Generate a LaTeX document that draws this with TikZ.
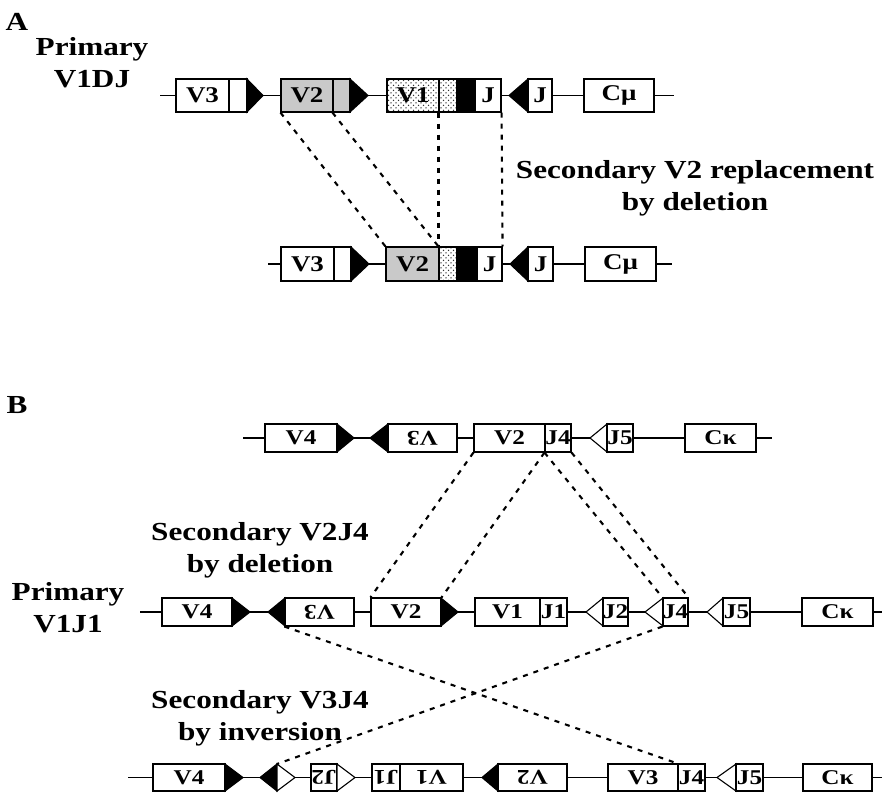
\documentclass[tikz,border=0pt]{standalone}
\usepackage{fontspec}
\setmainfont{Liberation Serif}[FakeStretch=1.2]
\usetikzlibrary{fit,patterns}
\pgfdeclarepatternformonly{stipple}{\pgfqpoint{-1pt}{-1pt}}{\pgfqpoint{5pt}{5pt}}{\pgfqpoint{5pt}{5pt}}{%
  \pgfpathcircle{\pgfqpoint{1pt}{1pt}}{0.75pt}%
  \pgfpathcircle{\pgfqpoint{3.5pt}{3.5pt}}{0.75pt}%
  \pgfusepath{fill}}
\begin{document}
\begin{tikzpicture}[x=1pt,y=-1pt,
  seg/.style={draw, line width=1.1pt, fill=white, inner sep=0pt},
  ta/.style={font=\fontsize{22.5}{24}\selectfont\bfseries, inner sep=0pt},
  tb/.style={font=\fontsize{21}{22}\selectfont\bfseries, inner sep=0pt},
  grayf/.style={fill=gray!42},
  dotf/.style={preaction={fill=white}, pattern=stipple, pattern color=black!80},
  blk/.style={fill=black},
  bb/.style={line width=1.1pt},
  dl/.style={line width=2.1pt, dash pattern=on 5pt off 6pt},
  lab/.style={font=\fontsize{26}{32}\selectfont\bfseries, align=center, inner sep=0pt},
  tri/.style={draw, line width=1.1pt, fill=black, line join=miter},
  otri/.style={draw, line width=1.1pt, fill=white, line join=miter}
]
\useasboundingbox (0,0) rectangle (882,794);
\fill[white] (0,0) rectangle (882,794);

% ---------- labels ----------
\node[lab] (tA) at (17,22) {A};
\node[lab] (pA) at (92,63) {Primary\\V1DJ};
\node[lab] (sA) at (695,188) {Secondary V2 replacement\\by deletion};
\node[lab] (tB) at (17,405) {B};
\node[lab] (pB) at (68,608) {Primary\\V1J1};
\node[lab] (sB1) at (260,550) {Secondary V2J4\\by deletion};
\node[lab] (sB2) at (260,718) {Secondary V3J4\\by inversion};

% ---------- A row 1 ----------
\draw[bb] (160,95.5) -- (674,95.5);
\node[seg, fit={(176,79)(229,112)}, label={[ta]center:V3}] (a1v3) {};
\node[seg, fit={(229,79)(247,112)}] (a1v3r) {};
\filldraw[tri] (247,79) -- (263,95.5) -- (247,112) -- cycle;
\node[seg, grayf, fit={(281,79)(333,112)}, label={[ta]center:V2}] (a1v2) {};
\node[seg, grayf, fit={(333,79)(350,112)}] (a1v2r) {};
\filldraw[tri] (350,79) -- (368,95.5) -- (350,112) -- cycle;
\node[seg, dotf, fit={(387,79)(439,112)}, label={[ta]center:V1}] (a1v1) {};
\node[seg, dotf, fit={(439,79)(457,112)}] (a1d) {};
\node[seg, blk, fit={(457,79)(475,112)}] (a1blk) {};
\node[seg, fit={(475,79)(501,112)}, label={[ta]center:J}] (a1j) {};
\filldraw[tri] (528,79) -- (509,95.5) -- (528,112) -- cycle;
\node[seg, fit={(528,79)(552,112)}, label={[ta]center:J}] (a1j2) {};
\node[seg, fit={(584,79)(654,112)}, label={[ta]center:Cμ}] (a1c) {};

% ---------- A row 2 ----------
\draw[bb] (268,264) -- (672,264);
\node[seg, fit={(281,247)(334,281)}, label={[ta]center:V3}] (a2v3) {};
\node[seg, fit={(334,247)(351,281)}] (a2v3r) {};
\filldraw[tri] (351,247) -- (369,264) -- (351,281) -- cycle;
\node[seg, grayf, fit={(386,247)(439,281)}, label={[ta]center:V2}] (a2v2) {};
\node[seg, dotf, fit={(439,247)(457,281)}] (a2d) {};
\node[seg, blk, fit={(457,247)(477,281)}] (a2blk) {};
\node[seg, fit={(477,247)(502,281)}, label={[ta]center:J}] (a2j) {};
\filldraw[tri] (528,247) -- (510,264) -- (528,281) -- cycle;
\node[seg, fit={(528,247)(553,281)}, label={[ta]center:J}] (a2j2) {};
\node[seg, fit={(585,247)(656,281)}, label={[ta]center:Cμ}] (a2c) {};

\draw[dl] (a1v2.south west) -- (a2v2.north west);
\draw[dl] (a1v2r.south west) -- (a2d.north west);
\draw[dl] (a1d.south west) -- (a2d.north west);
\draw[dl] (a1j.south east) -- (a2j.north east);

% ---------- B row 1 ----------
\draw[bb] (243,438) -- (772,438);
\node[seg, fit={(265,424)(337,452)}, label={[tb]center:V4}] (b1v4) {};
\filldraw[tri] (337,424) -- (354,438) -- (337,452) -- cycle;
\filldraw[tri] (388,424) -- (370,438) -- (388,452) -- cycle;
\node[seg, fit={(388,424)(457,452)}, label={[tb, rotate=180]center:V3}] (b1v3) {};
\node[seg, fit={(474,424)(545,452)}, label={[tb]center:V2}] (b1v2) {};
\node[seg, fit={(545,424)(571,452)}, label={[tb]center:J4}] (b1j4) {};
\filldraw[otri] (607,424) -- (590,438) -- (607,452) -- cycle;
\node[seg, fit={(607,424)(633,452)}, label={[tb]center:J5}] (b1j5) {};
\node[seg, fit={(685,424)(756,452)}, label={[tb]center:Cκ}] (b1c) {};

% ---------- B row 2 ----------
\draw[bb] (140,612) -- (882,612);
\node[seg, fit={(162,598)(232,626)}, label={[tb]center:V4}] (b2v4) {};
\filldraw[tri] (232,598) -- (250,612) -- (232,626) -- cycle;
\filldraw[tri] (285,598) -- (268,612) -- (285,626) -- cycle;
\node[seg, fit={(285,598)(354,626)}, label={[tb, rotate=180]center:V3}] (b2v3) {};
\node[seg, fit={(371,598)(441,626)}, label={[tb]center:V2}] (b2v2) {};
\filldraw[tri] (441,598) -- (458,612) -- (441,626) -- cycle;
\node[seg, fit={(475,598)(540,626)}, label={[tb]center:V1}] (b2v1) {};
\node[seg, fit={(540,598)(567,626)}, label={[tb]center:J1}] (b2j1) {};
\filldraw[otri] (603,598) -- (586,612) -- (603,626) -- cycle;
\node[seg, fit={(603,598)(628,626)}, label={[tb]center:J2}] (b2j2) {};
\filldraw[otri] (663,598) -- (645,612) -- (663,626) -- cycle;
\node[seg, fit={(663,598)(688,626)}, label={[tb]center:J4}] (b2j4) {};
\filldraw[otri] (723,598) -- (707,612) -- (723,626) -- cycle;
\node[seg, fit={(723,598)(750,626)}, label={[tb]center:J5}] (b2j5) {};
\node[seg, fit={(802,598)(873,626)}, label={[tb]center:Cκ}] (b2c) {};

% ---------- B row 3 ----------
\draw[bb] (128,777.5) -- (882,777.5);
\node[seg, fit={(153,764)(225,791)}, label={[tb]center:V4}] (b3v4) {};
\filldraw[tri] (225,764) -- (243,777.5) -- (225,791) -- cycle;
\filldraw[tri] (277,764) -- (260,777.5) -- (277,791) -- cycle;
\filldraw[otri] (277,764) -- (295,777.5) -- (277,791) -- cycle;
\coordinate (b3x) at (277,764);
\node[seg, fit={(311,764)(337,791)}, label={[tb, rotate=180]center:J2}] (b3j2) {};
\filldraw[otri] (337,764) -- (355,777.5) -- (337,791) -- cycle;
\node[seg, fit={(372,764)(400,791)}, label={[tb, rotate=180]center:J1}] (b3j1) {};
\node[seg, fit={(400,764)(463,791)}, label={[tb, rotate=180]center:V1}] (b3v1) {};
\filldraw[tri] (498,764) -- (482,777.5) -- (498,791) -- cycle;
\node[seg, fit={(498,764)(567,791)}, label={[tb, rotate=180]center:V2}] (b3v2) {};
\node[seg, fit={(608,764)(678,791)}, label={[tb]center:V3}] (b3v3) {};
\node[seg, fit={(678,764)(705,791)}, label={[tb]center:J4}] (b3j4) {};
\filldraw[otri] (736,764) -- (717,777.5) -- (736,791) -- cycle;
\node[seg, fit={(736,764)(763,791)}, label={[tb]center:J5}] (b3j5) {};
\node[seg, fit={(803,764)(872,791)}, label={[tb]center:Cκ}] (b3c) {};

% ---------- B dashed connectors ----------
\draw[dl] (b1v2.south west) -- (b2v2.north west);
\draw[dl] (b1j4.south west) -- (b2v2.north east);
\draw[dl] (b1j4.south west) -- (b2j4.north west);
\draw[dl] (b1j4.south east) -- (b2j4.north east);
\draw[dl] (b2v3.south west) -- (b3j4.north west);
\draw[dl] (b2j4.south west) -- (b3x);
\end{tikzpicture}
\end{document}
